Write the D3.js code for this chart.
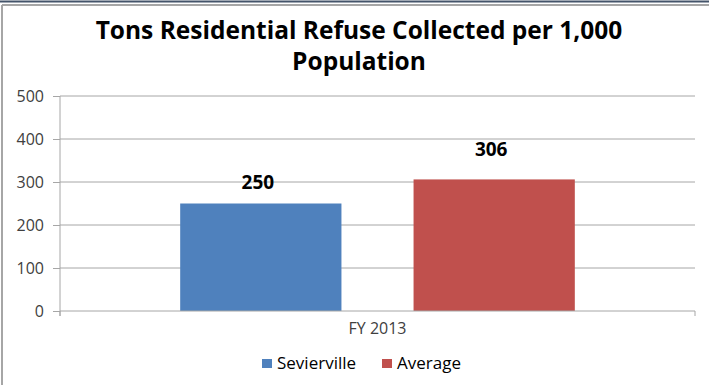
<!DOCTYPE html>
<html>
<head>
<meta charset="utf-8">
<script src="https://cdn.jsdelivr.net/npm/d3@7"></script>
<style>
  body { margin: 0; background: #fff; }
  svg text { font-family: 'Open Sans', 'DejaVu Sans', sans-serif; }
</style>
</head>
<body>
<div id="chart"></div>
<script>
var categories = ['FY 2013'];
var seriesNames = ['Sevierville', 'Average'];
var seriesValues = [250, 306];
var seriesColors = ['#4f81bd', '#c0504d'];
var yTicks = [0, 100, 200, 300, 400, 500];

var width = 709, height = 385;
var margin = {left: 60, right: 14, top: 96, bottom: 74};

var svg = d3.select('#chart').append('svg')
    .attr('width', width).attr('height', height);

// frame
svg.append('line').attr('x1', 0).attr('x2', width).attr('y1', 1.5).attr('y2', 1.5)
    .attr('stroke', '#44546a').attr('stroke-width', 2);
svg.append('line').attr('x1', 2).attr('x2', width).attr('y1', 5).attr('y2', 5)
    .attr('stroke', '#a6a6a6').attr('stroke-width', 2);
svg.append('line').attr('x1', 2).attr('x2', 2).attr('y1', 5).attr('y2', height)
    .attr('stroke', '#a6a6a6').attr('stroke-width', 2);

// title
var title = svg.append('text').attr('text-anchor', 'middle')
    .attr('font-weight', 'bold').attr('font-size', 24.5).attr('fill', '#000');
title.append('tspan').attr('x', 359).attr('y', 39).text('Tons Residential Refuse Collected per 1,000');
title.append('tspan').attr('x', 359).attr('y', 70).text('Population');

var x0 = d3.scaleBand().domain(categories)
    .range([margin.left, width - margin.right]);
var x1 = d3.scaleBand().domain(seriesNames)
    .range([0, x0.bandwidth()]).paddingInner(0.309).paddingOuter(0.515);
var y = d3.scaleLinear().domain([0, 500])
    .range([height - margin.bottom, margin.top]);

// gridlines
svg.append('g').selectAll('line').data(yTicks.slice(1)).enter().append('line')
    .attr('x1', margin.left).attr('x2', width - margin.right)
    .attr('y1', function(d) { return y(d); }).attr('y2', function(d) { return y(d); })
    .attr('stroke', '#a6a6a6').attr('stroke-width', 1);

// y axis
var yAxis = svg.append('g').attr('transform', 'translate(' + margin.left + ',0)')
    .call(d3.axisLeft(y).tickValues(yTicks).tickSize(7).tickPadding(9));
yAxis.select('.domain').attr('stroke', '#a6a6a6').attr('d', 'M0,' + y(500) + 'V' + (y(0) + 5));
yAxis.selectAll('.tick line').attr('stroke', '#a6a6a6');
yAxis.selectAll('.tick text').attr('font-size', 16).attr('fill', '#404040');

// bars
var labelGap = [15, 23];
var g = svg.append('g').selectAll('g').data(categories).enter().append('g')
    .attr('transform', function(d) { return 'translate(' + x0(d) + ',0)'; });
g.selectAll('rect').data(seriesValues).enter().append('rect')
    .attr('x', function(d, i) { return x1(seriesNames[i]); })
    .attr('width', x1.bandwidth())
    .attr('y', function(d) { return y(d); })
    .attr('height', function(d) { return y(0) - y(d); })
    .attr('fill', function(d, i) { return seriesColors[i]; });
g.selectAll('text.val').data(seriesValues).enter().append('text')
    .attr('class', 'val')
    .attr('x', function(d, i) { return x1(seriesNames[i]) + x1.bandwidth() / 2 - 3; })
    .attr('y', function(d, i) { return y(d) - labelGap[i]; })
    .attr('text-anchor', 'middle').attr('font-weight', 'bold').attr('font-size', 19)
    .text(function(d) { return d; });

// x axis
var xAxis = svg.append('g').attr('transform', 'translate(0,' + y(0) + ')')
    .call(d3.axisBottom(x0).tickSize(0).tickPadding(12));
xAxis.select('.domain').attr('stroke', '#a6a6a6')
    .attr('d', 'M' + margin.left + ',5V0H' + (width - margin.right) + 'V5');
xAxis.selectAll('.tick text').attr('font-size', 16).attr('fill', '#404040');

// legend
var legend = svg.append('g');
var lx = [262, 382];
seriesNames.forEach(function(name, i) {
    legend.append('rect').attr('x', lx[i]).attr('y', 359).attr('width', 10).attr('height', 9)
        .attr('fill', seriesColors[i]);
    legend.append('text').attr('x', lx[i] + 15).attr('y', 369)
        .attr('font-size', 17).attr('fill', '#000').text(name);
});
</script>
</body>
</html>
